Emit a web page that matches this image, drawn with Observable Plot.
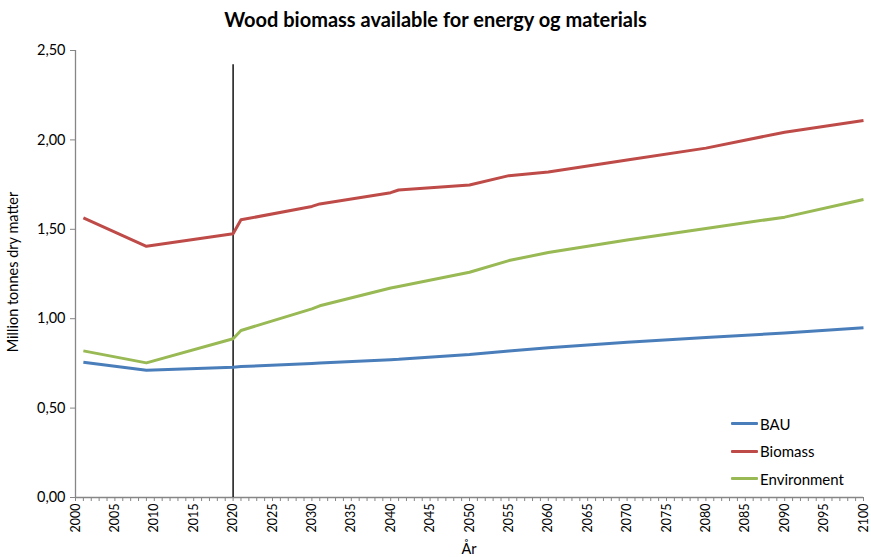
<!DOCTYPE html>
<html>
<head>
<meta charset="utf-8">
<script src="https://cdn.jsdelivr.net/npm/d3@7"></script>
<script src="https://cdn.jsdelivr.net/npm/@observablehq/plot@0.6"></script>
<style>
  html, body { margin: 0; padding: 0; background: #fff; }
  body { width: 871px; height: 557px; position: relative; overflow: hidden; font-family: Lato, "Open Sans", sans-serif; }
  #title { height: 38px; line-height: 38px; text-align: center; font-weight: bold; font-size: 20px; color: #000; padding-left: 0px; }
  #legend { position: absolute; left: 731px; top: 410px; font-size: 15px; color: #000; }
  #legend .item { height: 27.6px; display: flex; align-items: center; }
  #legend .sw { width: 27px; height: 3px; margin-right: 2px; border-radius: 1px; }
</style>
</head>
<body>
<div id="title">Wood biomass available for energy og materials</div>
<div id="chart"></div>
<div id="legend"></div>
<script>
const seriesNames = ["BAU", "Biomass", "Environment"];
const seriesColors = ["#4a7ebb", "#be4b48", "#98b954"];

const years = [2001, 2009, 2020, 2021, 2030, 2031, 2040, 2041, 2050, 2055, 2060, 2070, 2080, 2090, 2100];
const bau =         [0.757, 0.712, 0.729, 0.732, 0.750, 0.752, 0.771, 0.773, 0.800, 0.820, 0.838, 0.868, 0.895, 0.920, 0.949];
const biomass =     [1.564, 1.405, 1.475, 1.553, 1.628, 1.642, 1.705, 1.720, 1.748, 1.800, 1.820, 1.888, 1.954, 2.043, 2.108];
const environment = [0.820, 0.753, 0.888, 0.934, 1.055, 1.072, 1.172, 1.180, 1.260, 1.325, 1.370, 1.440, 1.505, 1.568, 1.667];

const yTicks = [0, 0.5, 1, 1.5, 2, 2.5];
const xLabelTicks = d3.range(2000, 2101, 5);
const xMinorTicks = d3.range(2000, 2101, 1);
const markerYear = 2020;
const markerTop = 2.42;

const seriesValues = [bau, biomass, environment];
const data = [];
seriesNames.forEach((name, i) => {
  years.forEach((yr, j) => data.push({series: name, year: yr, value: seriesValues[i][j]}));
});

const fmt = v => d3.format(".2f")(v).replace(".", ",");

const chart = Plot.plot({
  width: 871,
  height: 519,
  marginLeft: 75,
  marginRight: 8,
  marginTop: 12,
  marginBottom: 60,
  style: {fontFamily: "Lato, 'Open Sans', sans-serif", fontSize: "12px", color: "#000", background: "#fff"},
  x: {domain: [2000, 2100]},
  y: {domain: [0, 2.5]},
  color: {domain: seriesNames, range: seriesColors},
  marks: [
    Plot.axisY({ticks: yTicks, tickFormat: fmt, tickSize: 5, stroke: "#868686", fontSize: 14.5, tickPadding: 5, label: null}),
    Plot.ruleX([2000], {stroke: "#868686", strokeWidth: 1.3}),
    Plot.ruleY([0], {stroke: "#868686", strokeWidth: 1.3}),
    Plot.axisX({ticks: xMinorTicks, tickSize: 4, stroke: "#868686", text: null, label: null}),
    Plot.axisX({ticks: xLabelTicks, tickSize: 0, tickRotate: -90, tickFormat: d => String(d), fontSize: 12.5, tickPadding: 6, label: null}),
    Plot.ruleX([markerYear], {y1: 0, y2: markerTop, stroke: "#000", strokeWidth: 1.4}),
    Plot.line(data, {x: "year", y: "value", z: "series", stroke: "series", strokeWidth: 3, strokeLinejoin: "round", strokeLinecap: "butt"})
  ]
});
document.getElementById("chart").appendChild(chart);

// axis titles as real text inside the SVG
const svg = d3.select(chart);
svg.append("text")
  .attr("transform", "translate(18,234) rotate(-90)")
  .attr("text-anchor", "middle")
  .attr("font-size", 14.5)
  .attr("fill", "#000")
  .text("Million tonnes dry matter");
svg.append("text")
  .attr("x", 469).attr("y", 516)
  .attr("text-anchor", "middle")
  .attr("font-size", 14.5)
  .attr("fill", "#000")
  .text("År");

const legend = d3.select("#legend");
seriesNames.forEach((n, i) => {
  const it = legend.append("div").attr("class", "item");
  it.append("div").attr("class", "sw").style("background", seriesColors[i]);
  it.append("span").text(n);
});
</script>
</body>
</html>
